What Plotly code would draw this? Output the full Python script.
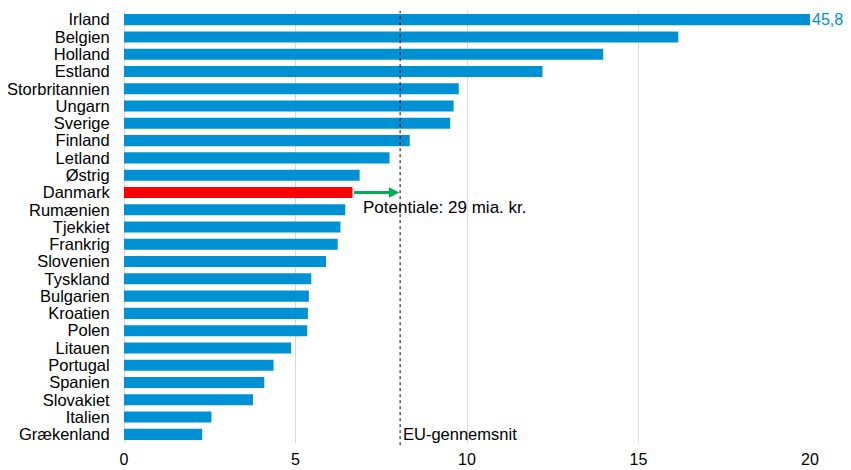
import plotly.graph_objects as go

countries = ["Irland", "Belgien", "Holland", "Estland", "Storbritannien", "Ungarn", "Sverige",
             "Finland", "Letland", "Østrig", "Danmark", "Rumænien", "Tjekkiet", "Frankrig",
             "Slovenien", "Tyskland", "Bulgarien", "Kroatien", "Polen", "Litauen", "Portugal",
             "Spanien", "Slovakiet", "Italien", "Grækenland"]
values = [45.8, 16.16, 13.97, 12.20, 9.76, 9.61, 9.51, 8.33, 7.74, 6.87, 6.66, 6.45, 6.31,
          6.23, 5.89, 5.46, 5.39, 5.36, 5.34, 4.87, 4.36, 4.09, 3.76, 2.55, 2.28]
highlight = "Danmark"
eu_avg = 8.05
x_ticks = [0, 5, 10, 15, 20]
x_max = 20
potential_label = "Potentiale: 29 mia. kr."
eu_label = "EU-gennemsnit"

BLUE = "#0091D5"
RED = "#FF0000"
GREEN = "#00B050"
FONT = "Liberation Sans, Arial, sans-serif"
FS = 16.5

colors = [RED if c == highlight else BLUE for c in countries]

fig = go.Figure()
fig.add_trace(go.Bar(
    x=values, y=countries, orientation="h",
    marker=dict(color=colors, line=dict(width=0)),
    width=0.64, hoverinfo="x+y",
))

# EU average dotted line
fig.add_shape(type="line", xref="x", yref="paper", x0=eu_avg, x1=eu_avg, y0=-0.005, y1=1.0,
              line=dict(color="#000000", width=1, dash="dot"))

# Overflow label for clipped bar
fig.add_annotation(x=x_max, y=countries[0], text=f"{values[0]:.1f}".replace(".", ","),
                   xanchor="left", yanchor="middle", showarrow=False, xshift=0,
                   font=dict(family=FONT, size=16, color=BLUE))

# Potential arrow for Danmark
dk_idx = countries.index(highlight)
dk_val = values[dk_idx]
fig.add_annotation(x=eu_avg - 0.02, y=highlight, ax=dk_val, ay=highlight,
                   xref="x", yref="y", axref="x", ayref="y",
                   showarrow=True, arrowhead=2, arrowsize=0.7, arrowwidth=3,
                   arrowcolor=GREEN, text="")
fig.add_annotation(x=6.9, y=dk_idx + 0.88, text=potential_label,
                   xanchor="left", yanchor="middle", showarrow=False,
                   font=dict(family=FONT, size=17, color="#000000"))

# EU label
fig.add_annotation(x=eu_avg, y=len(countries) - 1, text=eu_label,
                   xanchor="left", yanchor="middle", showarrow=False, xshift=1, yshift=0,
                   font=dict(family=FONT, size=FS, color="#000000"))

fig.update_layout(
    width=851, height=470,
    margin=dict(l=116, r=49, t=3, b=35),
    plot_bgcolor="white", paper_bgcolor="white",
    showlegend=False,
    font=dict(family=FONT, size=FS, color="#000000"),
)
fig.update_xaxes(range=[0, x_max], tickvals=x_ticks, ticktext=[str(t) for t in x_ticks],
                 showgrid=True, gridcolor="#D9D9D9", gridwidth=1,
                 zeroline=True, zerolinecolor="#D9D9D9", zerolinewidth=1,
                 showline=False, ticks="outside", ticklen=2, tickcolor="rgba(0,0,0,0)",
                 automargin=False,
                 tickfont=dict(family=FONT, size=16, color="#000000"))
fig.update_yaxes(range=[len(countries) - 0.5, -0.5], tickmode="array", tickvals=countries,
                 ticktext=countries, automargin=False,
                 showgrid=False, showline=False, ticks="outside", ticklen=10,
                 tickcolor="rgba(0,0,0,0)",
                 tickfont=dict(family=FONT, size=FS, color="#000000"))

fig.write_html("out.html")
